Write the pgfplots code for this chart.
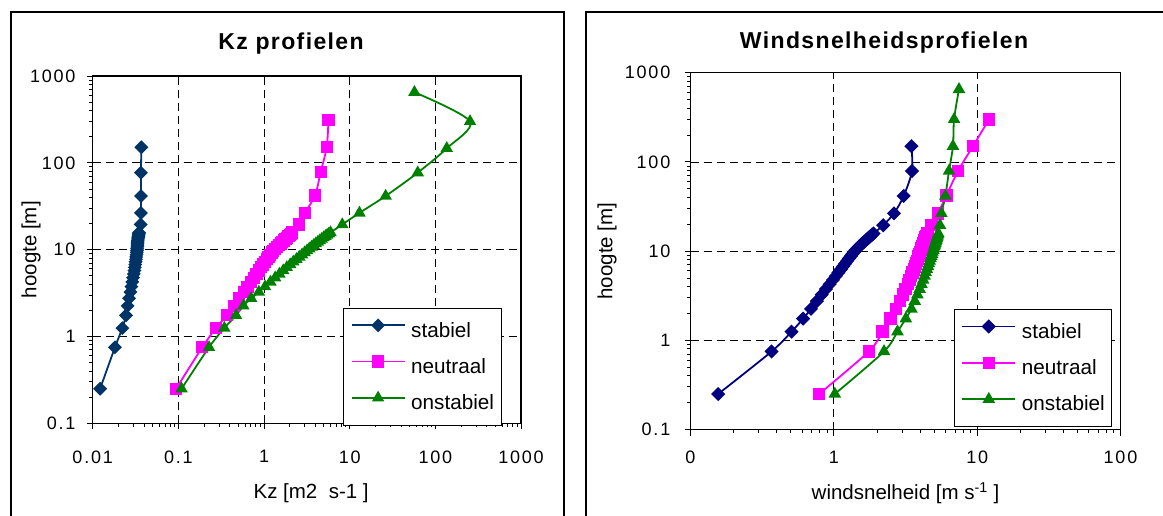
\documentclass[border=0pt]{standalone}
\usepackage{fontspec}
\setmainfont{Liberation Sans}
\usepackage{pgfplots}
\pgfplotsset{compat=1.18}
\newfontfamily\tickfam[LetterSpace=10]{Liberation Sans}
\newfontfamily\titlefam[LetterSpace=6]{Liberation Sans}
\definecolor{stabL}{RGB}{0,51,102}
\definecolor{stabR}{RGB}{0,0,128}
\definecolor{neut}{RGB}{255,0,255}
\definecolor{onst}{RGB}{0,128,0}
\begin{document}
\begin{tikzpicture}[x=1pt,y=1pt]
\draw[line width=2pt] (11,-20) rectangle (564,502.7);
\draw[line width=2pt] (586,-20) rectangle (1200,503);
\node[font=\titlefam\bfseries\fontsize{23}{27}\selectfont] at (291,471) {Kz profielen};
\node[font=\titlefam\bfseries\fontsize{23}{27}\selectfont] at (884,472) {Windsnelheidsprofielen};

\begin{axis}[
  scale only axis, xmode=log, ymode=log,
  at={(92.7pt,91.7pt)}, anchor=south west, width=428.3pt, height=347.3pt,
  xmin=0.01, xmax=1000, ymin=0.1, ymax=1000,
  axis line style={black, line width=1.4pt},
  tick align=outside, tick pos=left,
  major tick length=6pt, minor tick length=3.5pt,
  tick style={black, line width=0.9pt},
  xmajorgrids, ymajorgrids,
  major grid style={black, line width=0.8pt, dash pattern=on 8pt off 5pt},
  ticklabel style={font=\tickfam\fontsize{18}{20}\selectfont, inner sep=0pt},
  label style={font=\fontsize{20.5}{23}\selectfont},
  xtick={0.01,0.1,1,10,100,1000}, xticklabels={0.01,0.1,1,10,100,1000},
  ytick={0.1,1,10,100,1000}, yticklabels={0.1,1,10,100,1000},
  xticklabel shift=21pt, yticklabel shift=11pt,
  xlabel={Kz [m2\ \ s-1 ]}, ylabel={hoogte [m]},
  xlabel style={at={(axis description cs:0.51,-0.2007)}, anchor=center},
  ylabel style={at={(axis description cs:-0.144,0.5)}, anchor=center},
  legend cell align=left,
  legend image code/.code={\draw[#1, mark indices={2}] plot coordinates {(0pt,6.5pt) (26.5pt,6.5pt) (53pt,6.5pt)};},
  legend style={draw=black, line width=0.8pt, fill=white, anchor=north west,
    at={(axis description cs:0.5851,0.3311)},
    inner xsep=7pt, inner ysep=11pt, row sep=14.7pt, column sep=5.7pt,
    font=\fontsize{20.7}{23}\selectfont,
    nodes={inner sep=0pt, text height=15pt, text depth=4.5pt}},
]
\addplot[line width=1.8pt, color=stabL, smooth, mark=square*, mark size=4pt, mark options={solid, fill=stabL, draw=stabL, rotate=45}] coordinates {
(0.0122,0.25) (0.0182,0.75) (0.0222,1.25) (0.0245,1.75) (0.0256,2.25) (0.0266,2.75) (0.0276,3.25) (0.0283,3.75) (0.0290,4.25) (0.0296,4.75) (0.0302,5.25) (0.0307,5.75) (0.0311,6.25) (0.0314,6.75) (0.0317,7.25) (0.0320,7.75) (0.0322,8.25) (0.0325,8.75) (0.0327,9.25) (0.0329,9.75) (0.0330,10.25) (0.0332,10.75) (0.0333,11.25) (0.0334,11.75) (0.0335,12.25) (0.0336,12.75) (0.0338,13.25) (0.0340,13.75) (0.0342,14.25) (0.0344,14.75) (0.0346,15.25) (0.0348,15.75) (0.0363,19.5) (0.0366,26.5) (0.0366,41.5) (0.0366,77) (0.0370,151)
};
\addlegendentry{stabiel}
\addplot[line width=1.8pt, color=neut, smooth, mark=square*, mark size=5.2pt, mark options={solid, fill=neut, draw=neut}] coordinates {
(0.094,0.25) (0.19,0.75) (0.275,1.25) (0.37,1.75) (0.443,2.25) (0.512,2.75) (0.578,3.25) (0.640,3.75) (0.701,4.25) (0.759,4.75) (0.816,5.25) (0.871,5.75) (0.925,6.25) (0.978,6.75) (1.030,7.25) (1.080,7.75) (1.130,8.25) (1.179,8.75) (1.227,9.25) (1.274,9.75) (1.346,10.25) (1.418,10.75) (1.491,11.25) (1.564,11.75) (1.638,12.25) (1.711,12.75) (1.785,13.25) (1.859,13.75) (1.934,14.25) (2.009,14.75) (2.084,15.25) (2.120,15.75) (2.58,19.5) (3.0,26.5) (3.94,42) (4.6,79) (5.4,153) (5.65,312)
};
\addlegendentry{neutraal}
\addplot[line width=1.8pt, color=onst, smooth, mark=triangle*, mark size=5.4pt, mark options={solid, fill=onst, draw=onst}] coordinates {
(0.109,0.25) (0.228,0.75) (0.344,1.25) (0.471,1.75) (0.574,2.25) (0.709,2.75) (0.87,3.25) (1.03,3.75) (1.188,4.25) (1.349,4.75) (1.512,5.25) (1.677,5.75) (1.844,6.25) (2.02,6.75) (2.20,7.25) (2.39,7.75) (2.58,8.25) (2.78,8.75) (2.98,9.25) (3.18,9.75) (3.38,10.25) (3.59,10.75) (3.80,11.25) (4.02,11.75) (4.25,12.25) (4.48,12.75) (4.72,13.25) (4.96,13.75) (5.21,14.25) (5.46,14.75) (5.72,15.25) (5.98,15.75) (8.2,19.5) (13.0,26.5) (26.3,41.5) (62.3,77) (136,147) (254,300) (57,650)
};
\addlegendentry{onstabiel}
\end{axis}

\begin{axis}[
  scale only axis, xmode=log, ymode=log,
  at={(690.5pt,85.5pt)}, anchor=south west, width=430pt, height=356.8pt,
  xmin=0.1, xmax=100, ymin=0.1, ymax=1000,
  axis line style={black, line width=1.4pt},
  tick align=outside, tick pos=left,
  major tick length=6pt, minor tick length=3.5pt,
  tick style={black, line width=0.9pt},
  xmajorgrids, ymajorgrids,
  major grid style={black, line width=0.8pt, dash pattern=on 8pt off 5pt},
  ticklabel style={font=\tickfam\fontsize{18}{20}\selectfont, inner sep=0pt},
  label style={font=\fontsize{20.5}{23}\selectfont},
  xtick={0.1,1,10,100}, xticklabels={0,1,10,100},
  ytick={0.1,1,10,100,1000}, yticklabels={0.1,1,10,100,1000},
  xticklabel shift=15pt, yticklabel shift=14pt,
  xlabel={windsnelheid [m s\textsuperscript{-1} ]}, ylabel={hoogte [m]},
  xlabel style={at={(axis description cs:0.5,-0.178)}, anchor=center},
  ylabel style={at={(axis description cs:-0.194,0.5)}, anchor=center},
  legend cell align=left,
  legend image code/.code={\draw[#1, mark indices={2}] plot coordinates {(0pt,6.5pt) (26.5pt,6.5pt) (53pt,6.5pt)};},
  legend style={draw=black, line width=0.8pt, fill=white, anchor=north west,
    at={(axis description cs:0.6128,0.3369)},
    inner xsep=7pt, inner ysep=11pt, row sep=14.7pt, column sep=5.7pt,
    font=\fontsize{20.7}{23}\selectfont,
    nodes={inner sep=0pt, text height=15pt, text depth=4.5pt}},
]
\addplot[line width=1.8pt, color=stabR, smooth, mark=square*, mark size=4.1pt, mark options={solid, fill=stabR, draw=stabR, rotate=45}] coordinates {
(0.156,0.25) (0.368,0.75) (0.507,1.25) (0.611,1.75) (0.693,2.25) (0.762,2.75) (0.824,3.25) (0.881,3.75) (0.934,4.25) (0.985,4.75) (1.032,5.25) (1.077,5.75) (1.120,6.25) (1.161,6.75) (1.201,7.25) (1.239,7.75) (1.276,8.25) (1.312,8.75) (1.347,9.25) (1.380,9.75) (1.419,10.25) (1.458,10.75) (1.499,11.25) (1.541,11.75) (1.585,12.25) (1.630,12.75) (1.674,13.25) (1.718,13.75) (1.762,14.25) (1.805,14.75) (1.848,15.25) (1.890,15.75) (2.21,19.5) (2.63,26.5) (3.07,41.5) (3.51,79) (3.48,150)
};
\addlegendentry{stabiel}
\addplot[line width=1.8pt, color=neut, smooth, mark=square*, mark size=5.3pt, mark options={solid, fill=neut, draw=neut}] coordinates {
(0.79,0.25) (1.754,0.75) (2.19,1.25) (2.49,1.75) (2.72,2.25) (2.90,2.75) (3.04,3.25) (3.17,3.75) (3.28,4.25) (3.38,4.75) (3.46,5.25) (3.54,5.75) (3.61,6.25) (3.68,6.75) (3.74,7.25) (3.80,7.75) (3.85,8.25) (3.90,8.75) (3.95,9.25) (4.00,9.75) (4.04,10.25) (4.09,10.75) (4.13,11.25) (4.17,11.75) (4.21,12.25) (4.25,12.75) (4.29,13.25) (4.33,13.75) (4.37,14.25) (4.41,14.75) (4.45,15.25) (4.49,15.75) (4.80,19.5) (5.33,26.5) (6.10,42) (7.35,79) (9.35,150) (12.1,300)
};
\addlegendentry{neutraal}
\addplot[line width=1.8pt, color=onst, smooth, mark=triangle*, mark size=5.5pt, mark options={solid, fill=onst, draw=onst}] coordinates {
(1.016,0.25) (2.24,0.75) (2.78,1.25) (3.18,1.75) (3.48,2.25) (3.67,2.75) (3.83,3.25) (3.97,3.75) (4.09,4.25) (4.20,4.75) (4.30,5.25) (4.38,5.75) (4.46,6.25) (4.54,6.75) (4.61,7.25) (4.67,7.75) (4.73,8.25) (4.79,8.75) (4.84,9.25) (4.89,9.75) (4.94,10.25) (4.99,10.75) (5.03,11.25) (5.07,11.75) (5.11,12.25) (5.15,12.75) (5.19,13.25) (5.23,13.75) (5.26,14.25) (5.29,14.75) (5.33,15.25) (5.36,15.75) (5.50,19.5) (5.63,26.5) (6.0,41.5) (6.36,79) (6.78,150) (6.9,300) (7.47,650)
};
\addlegendentry{onstabiel}
\end{axis}
\pgfresetboundingbox
\useasboundingbox (0,0) rectangle (1163,515);
\end{tikzpicture}
\end{document}
